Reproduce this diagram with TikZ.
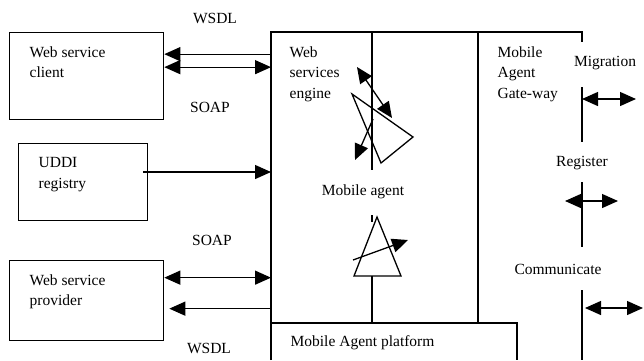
\documentclass[tikz,border=0pt]{standalone}
\usepackage{fontspec}
\setmainfont{Liberation Serif}
\usetikzlibrary{arrows.meta, calc, positioning}

\tikzset{
  box/.style={draw, line width=1.3pt, anchor=north west, inner sep=0pt},
  txt/.style={anchor=north west, inner sep=0pt, align=left},
  lbl/.style={inner sep=0pt},
  arr/.style={line width=1.3pt, -{Triangle[length=16pt,width=14pt]}},
  darr/.style={line width=1.3pt, {Triangle[length=16pt,width=14pt]}-{Triangle[length=16pt,width=14pt]}}
}

\begin{document}
\begin{tikzpicture}[x=1pt, y=-1pt, line width=1.3pt, font=\fontsize{15.5}{20.5}\selectfont]
          \useasboundingbox (0,0) rectangle (644,360);

          % clients and registry
          \node [box, minimum width=154, minimum height=87] (client) at (9,32) {};
          \node [box, minimum width=129, minimum height=77] (uddi) at (18,143) {};
          \node [box, minimum width=154, minimum height=80] (provider) at (9,260) {};
          \node [txt] (clienttxt) at (29,46) {Web service\\client};
          \node [txt] (udditxt) at (38,157) {UDDI\\registry};
          \node [txt] (providertxt) at (29,274) {Web service\\provider};

          % mobile agent system frame
          \coordinate (sys) at (271,32);
          \coordinate (gw) at (582,32);
          \draw (271,360) -- (sys) -- (gw) -- (582,42);
          \draw (582,87) -- (582,142);
          \draw (582,182) -- (582,247);
          \draw (582,290) -- (582,360);
          \draw (372,32) -- (372,170);
          \draw (478,32) -- (478,323);
          \draw (271,323) -- (517,323) -- (517,360);

          \node [txt] (enginetxt) at (289,46) {Web\\services\\engine};
          \node [txt] (gwtxt) at (497,46) {Mobile\\Agent\\Gate-way};
          \node [lbl] (agent) at (363,192) {Mobile agent};
          \node [lbl, anchor=west] (platform) at (290,343) {Mobile Agent platform};

          % labels on the links
          \node [lbl] (wsdl1) at (215,18) {WSDL};
          \node [lbl] (soap1) at (210,107) {SOAP};
          \node [lbl] (soap2) at (212,240) {SOAP};
          \node [lbl] (wsdl2) at (209,348) {WSDL};
          \node [lbl] (migr) at (605,63) {Migration};
          \node [lbl] (reg) at (582,163) {Register};
          \node [lbl] (comm) at (558,269) {Communicate};

          % links to the engine
          \draw [arr] ($(sys |- client.east)+(0,-22)$) -- ($(client.east)+(0,-22)$);
          \draw [darr] ($(client.east)+(0,-9)$) -- ($(sys |- client.east)+(0,-9)$);
          \draw [arr] ([xshift=-5pt]uddi.east |- 0,172) -- (sys |- 0,172);
          \draw [darr] ($(provider.east)+(0,-23)$) -- ($(sys |- provider.east)+(0,-23)$);
          \draw [arr] ($(sys |- provider.east)+(0,8)$) -- ($(provider.east)+(5,8)$);

          % engine symbol
          \draw [darr] (357,67) -- (392,118);
          \draw (352,94) -- (413,137) -- (381,163) -- cycle;
          \draw [arr] (373,119) -- (355,160);

          % mobile agent symbol
          \draw (377,217) -- (354,276) -- (401,276) -- cycle;
          \draw (372,215) -- (372,222);
          \draw (372,276) -- (372,323);
          \draw [arr] (353,260) -- (408,240);

          % gateway links
          \draw [darr] (gw |- 0,99) -- (636,99);
          \draw [darr] (565,201) -- (618,201);
          \draw [darr] (585,308) -- (643,308);
\end{tikzpicture}
\end{document}
